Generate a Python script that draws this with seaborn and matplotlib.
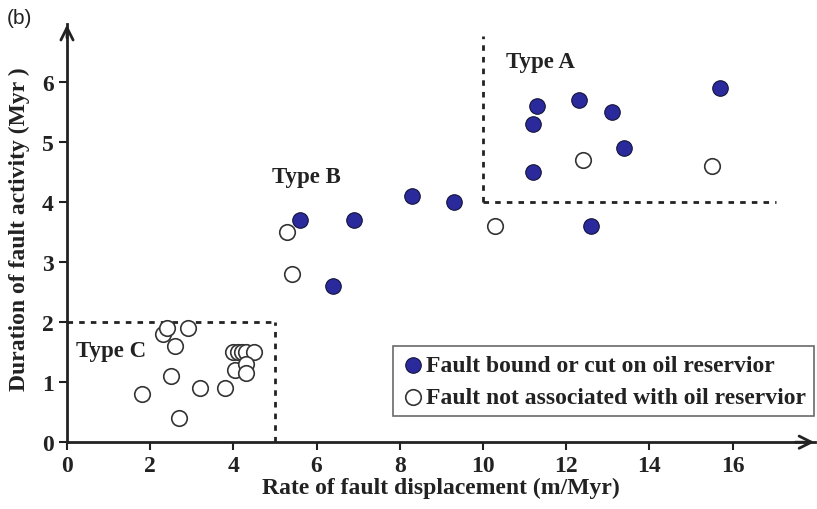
import matplotlib
matplotlib.use("Agg")
import matplotlib.pyplot as plt
import seaborn as sns
import pandas as pd

# ---- data ----
bound_rate = [5.6, 6.9, 8.3, 9.3, 6.4, 11.2, 11.2, 11.3, 12.3, 13.1, 13.4, 15.7, 12.6]
bound_dur = [3.7, 3.7, 4.1, 4.0, 2.6, 4.5, 5.3, 5.6, 5.7, 5.5, 4.9, 5.9, 3.6]

free_rate = [5.3, 5.4, 10.3, 12.4, 15.5,
             1.8, 2.3, 2.4, 2.9, 2.6, 2.5, 2.7, 3.2, 3.8,
             4.0, 4.1, 4.2, 4.3, 4.5, 4.05, 4.3, 4.3]
free_dur = [3.5, 2.8, 3.6, 4.7, 4.6,
            0.8, 1.8, 1.9, 1.9, 1.6, 1.1, 0.4, 0.9, 0.9,
            1.5, 1.5, 1.5, 1.5, 1.5, 1.2, 1.3, 1.15]

labels = ["Fault bound or cut on oil reservior",
          "Fault not associated with oil reservior"]
xticks = [0, 2, 4, 6, 8, 10, 12, 14, 16]
yticks = [0, 1, 2, 3, 4, 5, 6]

df = pd.DataFrame({
    "rate": bound_rate + free_rate,
    "dur": bound_dur + free_dur,
    "group": [labels[0]] * len(bound_rate) + [labels[1]] * len(free_rate),
})

sns.set_style("ticks")
plt.rcParams["font.family"] = ["Liberation Serif", "DejaVu Serif"]

fig = plt.figure(figsize=(8.17, 5.10), dpi=100)
ax = fig.add_axes([0.082, 0.131, 0.9155, 0.82])

blue = "#2a2a9c"
sns.scatterplot(data=df[df.group == labels[0]], x="rate", y="dur", ax=ax,
                color=blue, edgecolor="#15153a", linewidth=0.8, s=125,
                label=labels[0], zorder=3)
sns.scatterplot(data=df[df.group == labels[1]], x="rate", y="dur", ax=ax,
                color="white", edgecolor="#333333", linewidth=1.2, s=125,
                label=labels[1], zorder=3)

ax.set_xlim(0, 17.98)
ax.set_ylim(0, 6.97)
ax.set_xticks(xticks)
ax.set_yticks(yticks)
ax.tick_params(axis="both", labelsize=17, width=1.5, length=6, color="#222222",
               labelcolor="#222222")
ax.tick_params(axis="x", pad=3)
for lab in ax.get_xticklabels() + ax.get_yticklabels():
    lab.set_fontweight("bold")

for s in ["top", "right"]:
    ax.spines[s].set_visible(False)
for s in ["left", "bottom"]:
    ax.spines[s].set_linewidth(2)
    ax.spines[s].set_color("#222222")

# arrowheads
ax.annotate("", xy=(1.003, 0), xytext=(0.97, 0), xycoords="axes fraction",
            arrowprops=dict(arrowstyle="->", lw=2, color="#222222", mutation_scale=22),
            annotation_clip=False)
ax.annotate("", xy=(0, 1.005), xytext=(0, 0.96), xycoords="axes fraction",
            arrowprops=dict(arrowstyle="->", lw=2, color="#222222", mutation_scale=22),
            annotation_clip=False)

ax.set_xlabel("Rate of fault displacement (m/Myr)", fontsize=17, fontweight="bold",
              color="#222222", labelpad=1)
ax.set_ylabel("Duration of fault activity (Myr )", fontsize=17, fontweight="bold",
              color="#222222")
ax.yaxis.set_label_coords(-0.049, 0.512)

# region boundaries
dkw = dict(color="#222222", lw=2, ls=(0, (2, 2.2)), zorder=2)
ax.plot([0, 5], [2, 2], **dkw)
ax.plot([5, 5], [0, 2], **dkw)
ax.plot([10, 10], [4, 6.77], **dkw)
ax.plot([10, 17.05], [4, 4], **dkw)

tkw = dict(fontsize=16.5, fontweight="bold", color="#222222")
ax.text(10.55, 6.35, "Type A", va="center", ha="left", **tkw)
ax.text(4.92, 4.42, "Type B", va="center", ha="left", **tkw)
ax.text(0.22, 1.52, "Type C", va="center", ha="left", **tkw)

leg = ax.legend(loc="lower left", bbox_to_anchor=(0.436, 0.062), borderaxespad=0,
                frameon=True, fancybox=False, edgecolor="#444444",
                prop=dict(size=17, weight="bold"), handletextpad=0.05,
                handlelength=1.0, borderpad=0.35, labelspacing=0.45)
leg.get_frame().set_linewidth(1.2)
for t in leg.get_texts():
    t.set_color("#222222")

fig.text(0.008, 0.963, "(b)", fontsize=15, family="Liberation Sans", color="#222222",
         va="center", ha="left")

fig.savefig("out.png", dpi=100)
